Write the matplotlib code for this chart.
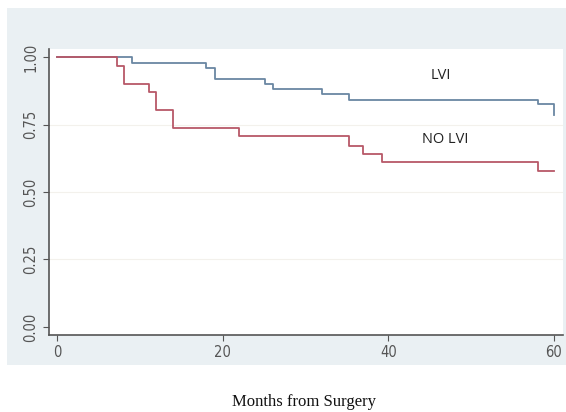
import matplotlib.pyplot as plt
from matplotlib.patches import Rectangle

# Kaplan-Meier style step data (months, survival)
lvi_t = [0, 9.1, 18.0, 19.1, 25.1, 26.1, 32.0, 35.2, 58.1, 60]
lvi_s = [1.0, 0.977, 0.959, 0.918, 0.902, 0.881, 0.863, 0.841, 0.825, 0.785]
nolvi_t = [0, 7.2, 8.1, 11.1, 12.0, 14.0, 22.0, 35.2, 37.0, 39.2, 58.1, 60]
nolvi_s = [1.0, 0.967, 0.90, 0.869, 0.804, 0.736, 0.707, 0.670, 0.640, 0.610, 0.578, 0.578]
xticks = [0, 20, 40, 60]
yticks = [0.0, 0.25, 0.5, 0.75, 1.0]
ytick_labels = ["0.00", "0.25", "0.50", "0.75", "1.00"]

W, H = 566, 412
fig = plt.figure(figsize=(W / 100, H / 100), dpi=100)
fig.patch.set_facecolor("white")
fig.patches.append(Rectangle((7 / W, 1 - 365 / H), (566 - 7) / W, (365 - 8) / H,
                             transform=fig.transFigure, facecolor="#eaf0f3",
                             edgecolor="none", zorder=-1))

ax = fig.add_axes([49 / W, 77 / H, (563 - 49) / W, (363 - 77) / H])
ax.set_zorder(2)
ax.set_facecolor("white")

ax.step(lvi_t, lvi_s, where="post", color="#6a87a3", lw=1.3)
ax.step(nolvi_t, nolvi_s, where="post", color="#b85868", lw=1.3)

ax.set_xlim(-0.97, 61.1)
ax.set_ylim(-0.03, 1.03)
ax.set_xticks(xticks)
ax.set_yticks(yticks)
ax.set_yticklabels(ytick_labels, rotation=90, va="center")
for y in [0.25, 0.5, 0.75]:
    ax.axhline(y, color="#f3f1ec", lw=0.8, zorder=0)

for s in ["top", "right"]:
    ax.spines[s].set_visible(False)
for s in ["left", "bottom"]:
    ax.spines[s].set_color("#555555")
    ax.spines[s].set_linewidth(1.2)
ax.tick_params(direction="out", length=4, width=0.8, color="#555555",
               labelcolor="#555555", labelsize=10.5)
for lab in ax.get_xticklabels() + ax.get_yticklabels():
    lab.set_family("DejaVu Sans")
    lab.set_stretch("condensed")

ax.text(46.3, 0.93, "LVI", ha="center", va="center", fontsize=10.5,
        family=["Open Sans", "DejaVu Sans"], color="#222222")
ax.text(46.9, 0.693, "NO LVI", ha="center", va="center", fontsize=10.5,
        family=["Open Sans", "DejaVu Sans"], color="#222222")

fig.text(304 / W, 1 - 402 / H, "Months from Surgery", ha="center", va="center",
         fontsize=12, family=["Liberation Serif", "DejaVu Serif"], color="#111111")

fig.savefig("out.png", dpi=100)
